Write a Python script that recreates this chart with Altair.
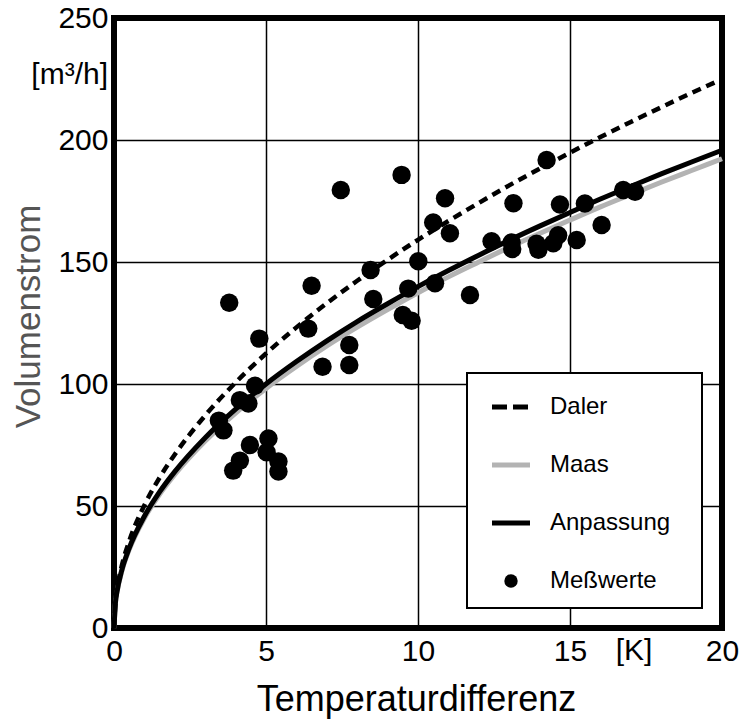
import altair as alt
import pandas as pd

# ---- data ----
meas_x = [3.79, 3.45, 3.60, 3.92, 4.14, 4.14, 4.42, 4.47, 4.64, 4.78, 5.02, 5.08, 5.41, 5.41,
          6.39, 6.50, 6.86, 7.46, 7.74, 7.74, 8.44, 8.53, 9.46, 9.50, 9.79, 9.68, 10.01, 10.56,
          10.50, 10.89, 11.05, 11.71, 12.42, 13.08, 13.10, 13.14, 13.90, 13.96, 14.23, 14.45,
          14.61, 14.67, 15.22, 15.49, 16.04, 16.75, 17.14]
meas_y = [133.3, 85.0, 81.0, 64.5, 68.6, 93.4, 92.0, 75.0, 99.3, 118.6, 72.0, 77.7, 68.2, 64.1,
          122.7, 140.3, 107.1, 179.5, 116.0, 107.8, 146.7, 134.8, 185.7, 128.3, 125.9, 139.1, 150.3, 141.3,
          166.2, 176.1, 161.8, 136.5, 158.5, 158.0, 155.3, 174.1, 157.5, 155.0, 191.8, 157.7,
          161.0, 173.6, 159.0, 174.0, 165.2, 179.5, 178.8]

curve_x = [0, 0.05, 0.1, 0.25, 0.5, 1, 1.5, 2, 3, 4, 5, 6, 7, 8, 9, 10, 11, 12, 13, 14, 15, 16,
           17, 18, 19, 20]
daler = [0, 11.2, 15.9, 25.2, 35.6, 50.3, 61.6, 71.1, 87.1, 100.6, 112.5, 123.2, 133.1, 142.3,
         150.9, 159.1, 166.8, 174.2, 181.4, 188.2, 194.8, 201.2, 207.4, 213.4, 219.3, 224.9]
anpassung = [0, 10.7, 15.0, 23.4, 32.7, 45.8, 55.8, 64.1, 78.0, 89.7, 100.0, 109.2, 117.7, 125.6,
             132.9, 139.9, 146.5, 152.8, 158.9, 164.7, 170.3, 175.8, 181.0, 186.1, 191.0, 195.8]
maas = [0, 10.5, 14.7, 23.0, 32.1, 45.0, 54.8, 62.9, 76.6, 88.1, 98.2, 107.2, 115.6, 123.3,
        130.5, 137.4, 143.9, 150.0, 156.0, 161.7, 167.2, 172.6, 177.7, 182.7, 187.5, 192.3]

series_names = ["Daler", "Maas", "Anpassung", "Meßwerte"]
series_colors = ["black", "#b3b3b3", "black", "black"]

x_ticks = [0, 5, 10, 15, 20]
y_ticks = [0, 50, 100, 150, 200, 250]

FONT = "Liberation Sans"

meas_df = pd.DataFrame({"x": meas_x, "y": meas_y})
curve_df = pd.DataFrame({"x": curve_x, "Daler": daler, "Maas": maas, "Anpassung": anpassung})
legend_df = pd.DataFrame({"series": series_names})

xscale = alt.Scale(domain=[0, 20], nice=False, zero=False)
yscale = alt.Scale(domain=[0, 250], nice=False, zero=False)

xaxis = alt.Axis(values=x_ticks, title="Temperaturdifferenz", labelFlush=False, labelOverlap=False,
                 labelPadding=8, titleX=302, titleY=82, titleBaseline="alphabetic",
                 titleAlign="center", titleFontSize=36, titleFontWeight="normal", titleColor="black")
yaxis = alt.Axis(values=y_ticks, title="Volumenstrom", labelFlush=False, labelOverlap=False,
                 labelPadding=6, titleX=-86, titleY=298, titleAngle=270, titleAlign="center",
                 titleBaseline="middle", titleFontSize=35, titleFontWeight="normal",
                 titleColor="#555555")

base = alt.Chart(curve_df)

maas_line = base.mark_line(color="#b3b3b3", strokeWidth=5, interpolate="monotone").encode(
    x=alt.X("x:Q", scale=xscale, axis=xaxis),
    y=alt.Y("Maas:Q", scale=yscale, axis=yaxis),
)
anp_line = base.mark_line(color="black", strokeWidth=5, interpolate="monotone").encode(
    x=alt.X("x:Q", scale=xscale),
    y=alt.Y("Anpassung:Q", scale=yscale),
)
daler_line = base.mark_line(color="black", strokeWidth=4.5, strokeDash=[9, 6],
                            interpolate="monotone").encode(
    x=alt.X("x:Q", scale=xscale),
    y=alt.Y("Daler:Q", scale=yscale),
)
points = alt.Chart(meas_df).mark_circle(color="black", size=340, opacity=1).encode(
    x=alt.X("x:Q", scale=xscale),
    y=alt.Y("y:Q", scale=yscale),
)

unit_y = alt.Chart(pd.DataFrame({"t": ["[m³/h]"]})).mark_text(
    font=FONT, fontSize=30, align="right", baseline="middle", color="black"
).encode(x=alt.value(-6), y=alt.value(57), text="t:N")
unit_x = alt.Chart(pd.DataFrame({"t": ["[K]"]})).mark_text(
    font=FONT, fontSize=30, align="center", baseline="top", color="black"
).encode(x=alt.value(520), y=alt.value(618), text="t:N")

main = alt.layer(maas_line, anp_line, daler_line, points, unit_y, unit_x)

# ---- legend drawn inside the plot ----
leg_y = alt.Y("series:N", scale=alt.Scale(type="point", domain=series_names, range=[389, 563],
                                          padding=0), axis=None)
leg_color = alt.Color("series:N", scale=alt.Scale(domain=series_names, range=series_colors),
                      legend=None)

leg_box = alt.Chart(pd.DataFrame({"k": [0]})).mark_rect(
    fill="white", stroke="black", strokeWidth=2
).encode(x=alt.value(353), x2=alt.value(588), y=alt.value(355), y2=alt.value(590))

leg_lines = alt.Chart(legend_df).transform_filter(
    alt.FieldOneOfPredicate(field="series", oneOf=series_names[:3])
).mark_rule(strokeWidth=5).encode(
    y=leg_y, x=alt.value(378), x2=alt.value(416), color=leg_color,
    strokeDash=alt.StrokeDash("series:N", scale=alt.Scale(domain=series_names[:3],
                                                          range=[[15, 6], [1, 0], [1, 0]]),
                              legend=None),
)
leg_point = alt.Chart(legend_df).transform_filter(
    alt.datum.series == series_names[3]
).mark_circle(size=180, opacity=1).encode(y=leg_y, x=alt.value(397), color=leg_color)

leg_text = alt.Chart(legend_df).mark_text(
    font=FONT, fontSize=24, align="left", baseline="middle", color="black"
).encode(y=leg_y, x=alt.value(436), text="series:N")

legend = alt.layer(leg_box, leg_lines, leg_point, leg_text)

chart = alt.layer(main, legend).resolve_scale(y="independent").properties(
    width=608, height=610,
    autosize=alt.AutoSizeParams(type="none"),
    padding={"left": 114, "top": 18, "right": 19, "bottom": 92},
    background="white",
).configure_view(
    stroke="black", strokeWidth=6
).configure_axis(
    labelFont=FONT, titleFont=FONT, labelFontSize=30, labelColor="black",
    grid=True, gridColor="black", gridWidth=1.5, gridOpacity=1,
    domain=False, ticks=False,
).configure_text(font=FONT)

chart.save("out.html", embed_options={"renderer": "svg", "actions": False})
